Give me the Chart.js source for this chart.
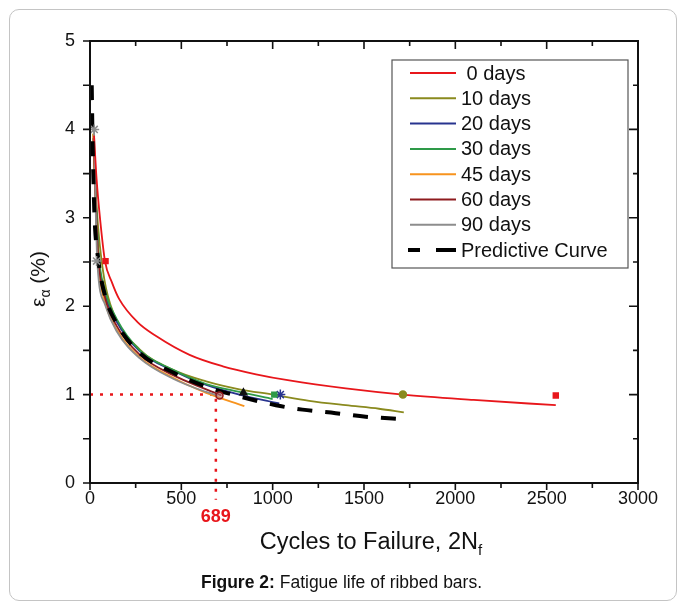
<!DOCTYPE html>
<html>
<head>
<meta charset="utf-8">
<script src="https://cdn.jsdelivr.net/npm/chart.js@4.4.1/dist/chart.umd.min.js"></script>
<style>
  html, body { margin: 0; padding: 0; background: #fff; }
  #wrap { position: relative; width: 683px; height: 608px; overflow: hidden; font-family: "Liberation Sans", Arial, sans-serif; }
  #frame { position: absolute; left: 9px; top: 9px; width: 666px; height: 590px; border: 1px solid #c4c4c4; border-radius: 10px; }
  canvas { position: absolute; left: 0; top: 0; }
  .xt { position: absolute; left: 0; width: 742px; top: 528px; text-align: center; font-size: 23.5px; color: #111; }
  .xt sub { font-size: 15px; vertical-align: -6px; line-height: 0; }
  .yt { position: absolute; left: 38px; top: 279px; transform: translate(-50%, -50%) rotate(-90deg); white-space: nowrap; font-size: 21px; color: #111; }
  .yt sub { font-size: 14px; vertical-align: -5px; line-height: 0; }
  .cap { position: absolute; left: 0; width: 683px; top: 572px; text-align: center; font-size: 17.5px; color: #111; }
</style>
</head>
<body>
<div id="wrap">
  <div id="frame"></div>
  <canvas id="c" width="683" height="608"></canvas>
  <div class="yt">ε<sub>α</sub> (%)</div>
  <div class="xt">Cycles to Failure, 2N<sub>f</sub></div>
  <div class="cap"><b>Figure 2:</b> Fatigue life of ribbed bars.</div>
</div>
<script>
// ---- Data ----
const seriesLabels = [' 0 days', '10 days', '20 days', '30 days', '45 days', '60 days', '90 days', 'Predictive Curve'];

const cycles0d  = [22, 36, 55, 82, 120, 160, 260, 364, 545, 727, 909, 1091, 1400, 1713, 2100, 2550];
const strain0d  = [3.93, 3.44, 2.99, 2.51, 2.27, 2.08, 1.82, 1.66, 1.45, 1.32, 1.23, 1.16, 1.07, 1.00, 0.94, 0.88];

const cycles10d = [18, 27, 45, 78, 127, 273, 455, 636, 818, 1000, 1200, 1400, 1582, 1718];
const strain10d = [3.95, 3.44, 2.88, 2.31, 1.93, 1.51, 1.28, 1.15, 1.06, 1.00, 0.93, 0.88, 0.84, 0.80];

const cycles20d = [20, 30, 45, 82, 145, 273, 455, 636, 818, 1036];
const strain20d = [3.90, 3.30, 2.60, 2.14, 1.83, 1.49, 1.27, 1.11, 1.00, 0.90];

const cycles30d = [20, 30, 45, 82, 145, 273, 455, 636, 818, 1000];
const strain30d = [3.90, 3.35, 2.65, 2.18, 1.86, 1.50, 1.28, 1.12, 1.03, 0.95];

const cycles45d = [18, 30, 45, 82, 145, 273, 455, 636, 845];
const strain45d = [3.95, 3.20, 2.50, 2.05, 1.74, 1.42, 1.19, 1.02, 0.87];

const cycles60d = [20, 30, 45, 82, 145, 273, 455, 636, 720];
const strain60d = [3.90, 3.25, 2.55, 2.10, 1.78, 1.45, 1.22, 1.06, 0.99];

const cycles90d = [22, 30, 40, 82, 145, 273, 455, 636, 700];
const strain90d = [4.00, 3.20, 2.50, 2.02, 1.72, 1.41, 1.18, 1.03, 0.99];

const cyclesPred = [9.5, 13, 18, 25, 45, 82, 145, 273, 455, 636, 818, 1018, 1163, 1345, 1509, 1730];
const strainPred = [4.50, 4.00, 3.50, 3.00, 2.53, 2.12, 1.81, 1.47, 1.25, 1.09, 0.98, 0.88, 0.83, 0.79, 0.75, 0.72];

// experimental markers
const mark0dX = [85, 2550];   const mark0dY = [2.51, 0.99];
const mark10dX = [1713];      const mark10dY = [1.00];
const mark20dX = [1042];      const mark20dY = [1.00];
const mark30dX = [1009];      const mark30dY = [1.00];
const markTriX = [840];       const markTriY = [1.02];
const mark60dX = [709];       const mark60dY = [0.99];
const mark90dX = [23, 36];    const mark90dY = [4.00, 2.51];

// reference (design) life
const refLife = 689;
const refStrain = 1;
const refLineX = [0, refLife, refLife];
const refLineY = [refStrain, refStrain, -0.19];

// axes
const xMin = 0, xMax = 3000, xStep = 250, xLabelStep = 500;
const yMin = 0, yMax = 5, yStep = 0.5, yLabelStep = 1;

// ---- Build ----
const pts = (xs, ys) => xs.map((x, i) => ({x: x, y: ys[i]}));
const colors = ['#e8161b', '#8a8a1e', '#28348f', '#2e9a48', '#f7931e', '#8e1b1e', '#8d8d8d', '#000000'];
const lineSets = [
  [cycles0d, strain0d], [cycles10d, strain10d], [cycles20d, strain20d], [cycles30d, strain30d],
  [cycles45d, strain45d], [cycles60d, strain60d], [cycles90d, strain90d], [cyclesPred, strainPred]
];
const datasets = [];
lineSets.forEach((s, i) => {
  const isPred = i === 7;
  datasets.push({
    label: seriesLabels[i],
    data: pts(s[0], s[1]),
    showLine: true,
    borderColor: colors[i],
    backgroundColor: colors[i],
    borderWidth: isPred ? 4 : 1.8,
    borderDash: isPred ? [15, 13] : [],
    pointRadius: 0,
    cubicInterpolationMode: 'monotone',
    order: isPred ? 0 : (i === 0 ? 1 : 8 - i),
    legendLine: true
  });
});
function marker(xs, ys, color, style, r, fill) {
  return {
    label: '', data: pts(xs, ys), showLine: false, pointStyle: style,
    pointRadius: r, borderColor: color, backgroundColor: fill || color, borderWidth: 1.5, order: -1
  };
}
datasets.push(marker(mark0dX, mark0dY, colors[0], 'rect', 3.5));
datasets.push(marker(mark10dX, mark10dY, colors[1], 'circle', 3.5));
datasets.push(marker(mark30dX, mark30dY, colors[3], 'rect', 3.5));
datasets.push(marker(mark20dX, mark20dY, colors[2], 'star', 5));
datasets.push(marker(markTriX, markTriY, '#111', 'triangle', 4));
datasets.push(marker(mark60dX, mark60dY, colors[5], 'circle', 3.5, 'rgba(180,120,120,0.6)'));
datasets.push(marker(mark90dX, mark90dY, colors[6], 'star', 5));
datasets.push({
  label: '', data: pts(refLineX, refLineY), showLine: true, pointRadius: 0,
  borderColor: '#e8161b', borderWidth: 2.5, borderDash: [3, 7], clip: false, order: 5
});

const framePlugin = {
  id: 'frameTicks',
  afterDatasetsDraw(chart) {
    const ctx = chart.ctx, xs = chart.scales.x, ys = chart.scales.y;
    const L = xs.left, R = xs.right, T = ys.top, B = ys.bottom;
    ctx.save();
    ctx.strokeStyle = '#111';
    ctx.lineWidth = 2;
    ctx.strokeRect(L, T, R - L, B - T);
    ctx.lineWidth = 1.6;
    ctx.beginPath();
    for (let v = xMin; v <= xMax + 1e-9; v += xStep) {
      const p = xs.getPixelForValue(v);
      const major = Math.abs(v % xLabelStep) < 1e-9;
      ctx.moveTo(p, B); ctx.lineTo(p, B + (major ? 7 : 5));
      ctx.moveTo(p, T); ctx.lineTo(p, T + (major ? 8 : 5));
    }
    for (let v = yMin; v <= yMax + 1e-9; v += yStep) {
      const p = ys.getPixelForValue(v);
      const major = Math.abs(v % yLabelStep) < 1e-9;
      ctx.moveTo(L, p); ctx.lineTo(L - 7, p);
      ctx.moveTo(R, p); ctx.lineTo(R - (major ? 9 : 5), p);
    }
    ctx.stroke();
    // reference life label
    ctx.fillStyle = '#e8161b';
    ctx.font = 'bold 18px "Liberation Sans", Arial, sans-serif';
    ctx.textAlign = 'center';
    ctx.textBaseline = 'middle';
    ctx.fillText(String(refLife), xs.getPixelForValue(refLife), 517);
    // legend
    const lx = 392, ly = 60, lw = 236, lh = 208;
    ctx.fillStyle = '#fff';
    ctx.fillRect(lx, ly, lw, lh);
    ctx.strokeStyle = '#555';
    ctx.lineWidth = 1.2;
    ctx.strokeRect(lx, ly, lw, lh);
    ctx.font = '20px "Liberation Sans", Arial, sans-serif';
    ctx.textAlign = 'left';
    const lineSetsDs = chart.data.datasets.filter(d => d.legendLine);
    lineSetsDs.forEach((d, i) => {
      const yy = 73 + i * 25.3;
      ctx.save();
      ctx.strokeStyle = d.borderColor;
      ctx.lineWidth = d.borderWidth === 4 ? 4 : 2;
      if (d.borderWidth === 4) {
        ctx.beginPath();
        ctx.moveTo(408, yy); ctx.lineTo(420, yy);
        ctx.moveTo(436, yy); ctx.lineTo(456, yy);
        ctx.stroke();
      } else {
        ctx.beginPath(); ctx.moveTo(410, yy); ctx.lineTo(456, yy); ctx.stroke();
      }
      ctx.restore();
      ctx.fillStyle = '#111';
      ctx.fillText(d.label, 461, yy + 1);
    });
    ctx.restore();
  }
};

new Chart(document.getElementById('c'), {
  type: 'scatter',
  data: { datasets: datasets },
  options: {
    responsive: false,
    animation: false,
    devicePixelRatio: 1,
    layout: { padding: { top: 41, right: 45, left: 0, bottom: 0 } },
    plugins: { legend: { display: false }, tooltip: { enabled: false } },
    scales: {
      x: {
        type: 'linear', min: xMin, max: xMax,
        grid: { display: false, drawTicks: false },
        border: { display: false },
        ticks: {
          stepSize: xStep, autoSkip: false, maxRotation: 0, padding: 5, color: '#111',
          font: { size: 18, family: '"Liberation Sans", Arial, sans-serif' },
          callback: v => (Math.abs(v % xLabelStep) < 1e-9 ? String(v) : '')
        },
        afterFit: s => { s.height = 125; }
      },
      y: {
        type: 'linear', min: yMin, max: yMax,
        grid: { display: false, drawTicks: false },
        border: { display: false },
        ticks: {
          stepSize: yStep, autoSkip: false, padding: 15, color: '#111',
          font: { size: 18, family: '"Liberation Sans", Arial, sans-serif' },
          callback: v => (Math.abs(v % yLabelStep) < 1e-9 ? String(v) : '')
        },
        afterFit: s => { s.width = 90; }
      }
    }
  },
  plugins: [framePlugin]
});
</script>
</body>
</html>
